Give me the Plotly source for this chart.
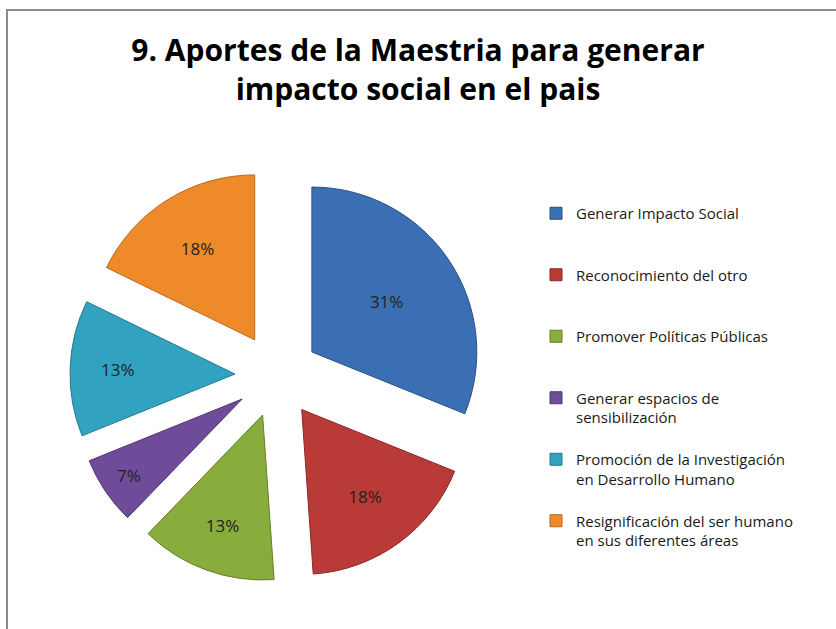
import plotly.graph_objects as go

labels = [
    "Generar Impacto Social",
    "Reconocimiento del otro",
    "Promover Políticas Públicas",
    "Generar espacios de<br>sensibilización",
    "Promoción de la Investigación<br>en Desarrollo Humano",
    "Resignificación del ser humano<br>en sus diferentes áreas",
]
values = [14, 8, 6, 3, 6, 8]
colors = ["#3B6FB3", "#B93A37", "#89AD3D", "#6E4C99", "#31A3C0", "#EF8A2B"]
edge_colors = ["#2B5287", "#8A2927", "#657F2C", "#503870", "#237A90", "#B8661E"]

W, H = 836, 629

# pad each legend entry to three lines so the entries are evenly spaced
legend_labels = []
for lab in labels:
    lines = lab.split("<br>")
    lines += [" "] * (3 - len(lines))
    legend_labels.append("<br>".join(lines))

fig = go.Figure(
    go.Pie(
        labels=legend_labels,
        values=values,
        sort=False,
        direction="clockwise",
        rotation=0,
        pull=[0.255] * len(values),
        marker=dict(colors=colors, line=dict(color=edge_colors, width=1)),
        texttemplate="%{percent:.0%}",
        textposition="inside",
        insidetextorientation="horizontal",
        textfont=dict(family="Open Sans", size=17, color="#222222"),
        hoverinfo="percent",
        domain=dict(x=[70 / W, 484 / W], y=[1 - 582.5 / H, 1 - 168.5 / H]),
    )
)

fig.update_layout(
    width=W,
    height=H,
    margin=dict(l=0, r=0, t=0, b=0),
    paper_bgcolor="white",
    plot_bgcolor="white",
    title=dict(
        text="<b>9. Aportes de la Maestria para generar<br>impacto social en el pais</b>",
        x=0.5,
        xanchor="center",
        y=1 - 61 / H,
        yanchor="middle",
        font=dict(family="Open Sans", size=30, color="#000000"),
    ),
    legend=dict(
        x=536 / W,
        xanchor="left",
        y=1 - 197 / H,
        yanchor="top",
        valign="top",
        itemwidth=30,
        font=dict(family="Open Sans", size=15, color="#1a1a1a"),
        bgcolor="rgba(0,0,0,0)",
    ),
    shapes=[
        dict(
            type="rect",
            xref="paper",
            yref="paper",
            x0=7 / W,
            x1=1.05,
            y0=-0.05,
            y1=1 - 10 / H,
            line=dict(color="#8a8a8a", width=2),
            fillcolor="rgba(0,0,0,0)",
        )
    ],
)

fig.write_html(
    "out.html",
    config={"displayModeBar": False},
    post_script="document.body.style.margin='0';document.body.style.overflow='hidden';",
)
